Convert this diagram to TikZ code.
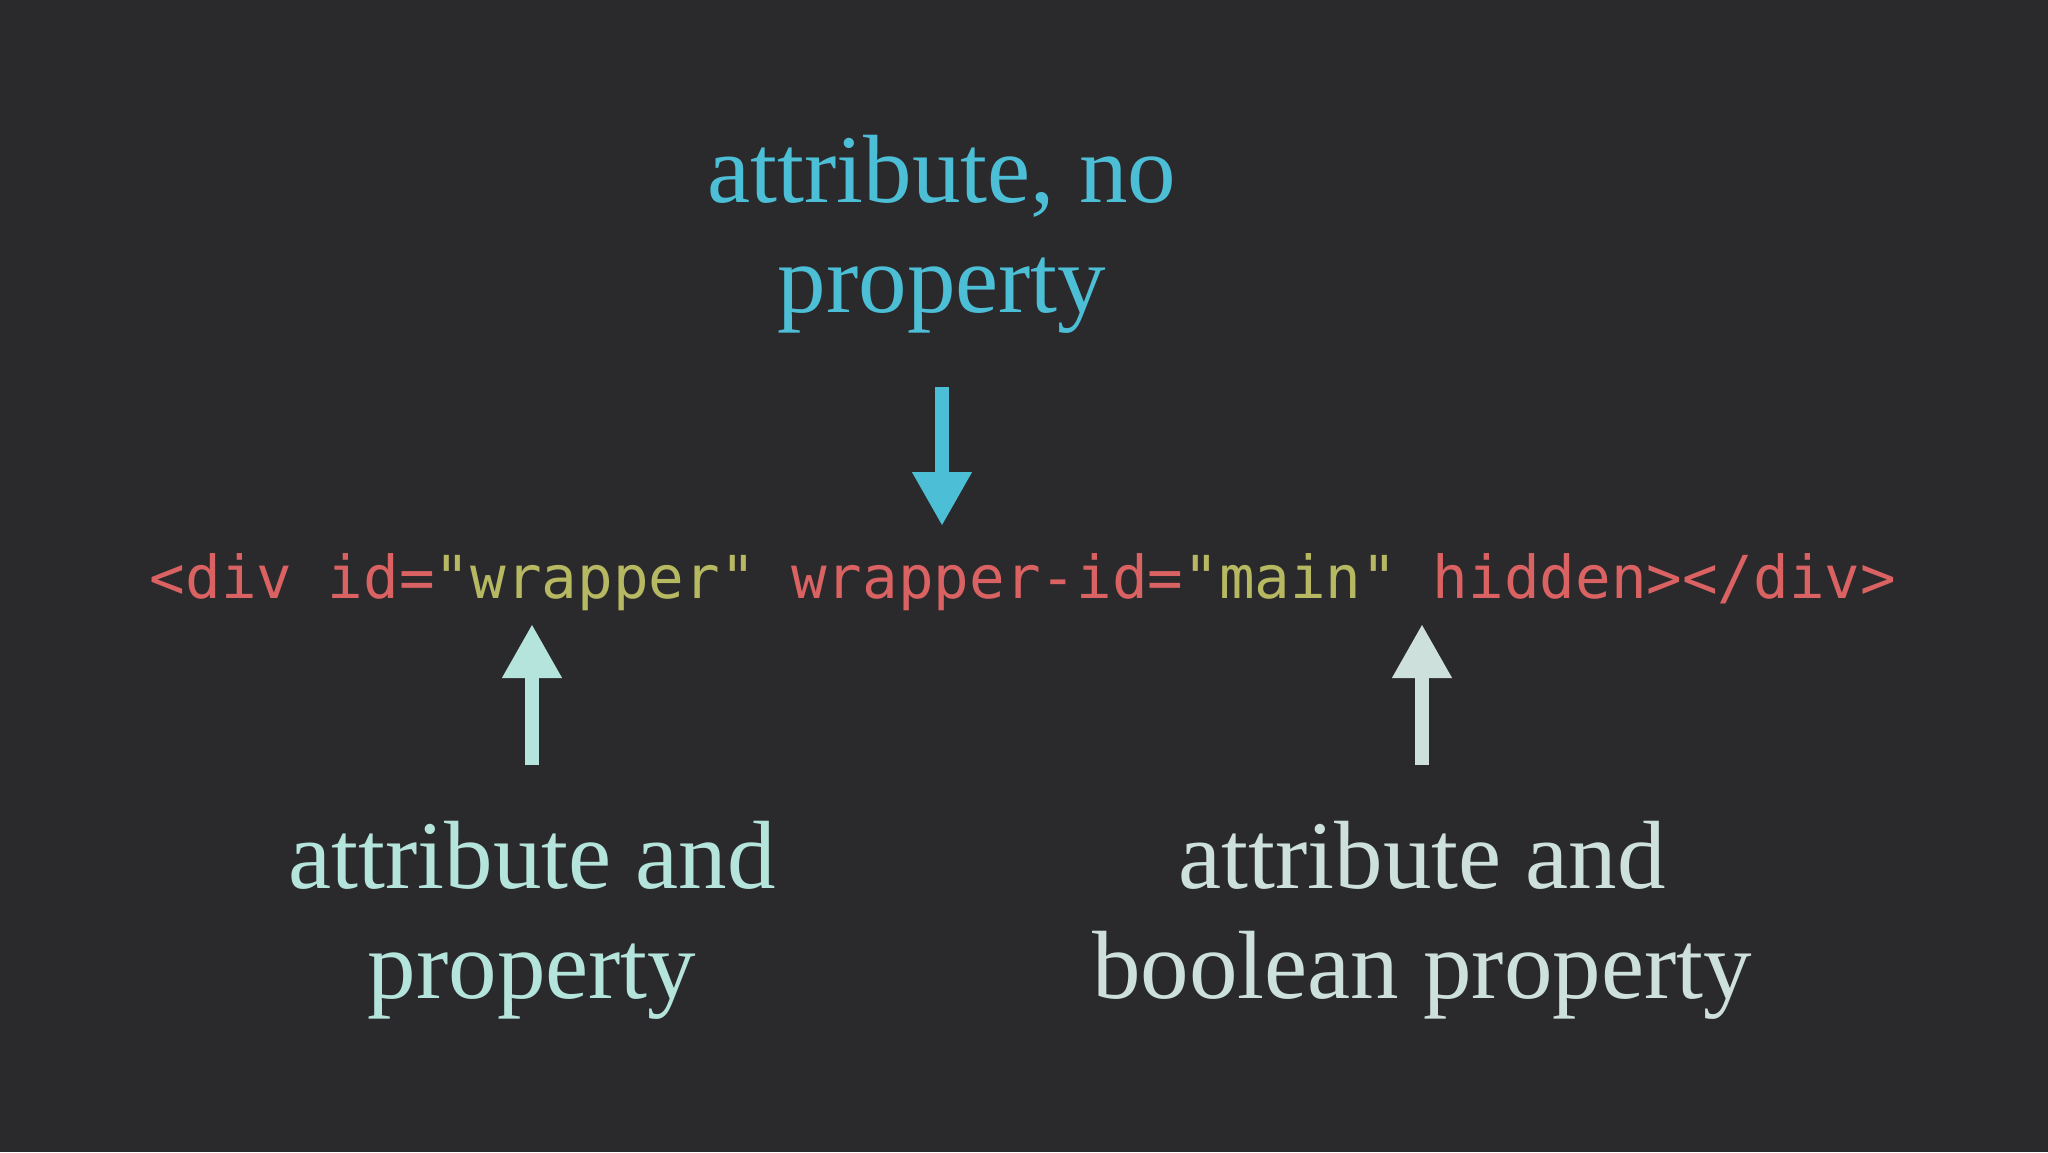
\documentclass[tikz,border=0pt]{standalone}
\usepackage{fontspec}
\setmainfont{Liberation Serif}
\newfontfamily\codefont{DejaVu Sans Mono}
\usetikzlibrary{arrows.meta}
\definecolor{bgc}{HTML}{2A2A2C}
\definecolor{cblue}{HTML}{4CBFD7}
\definecolor{cmint}{HTML}{B4E4DB}
\definecolor{cgray}{HTML}{CDE0DC}
\definecolor{cred}{HTML}{DA6262}
\definecolor{cyel}{HTML}{B6B862}
\tikzset{
  lbl/.style={anchor=base, inner sep=0pt, font=\fontsize{48.5}{55}\selectfont},
  codetxt/.style={anchor=base, inner sep=0pt, font=\codefont\fontsize{29.6}{36}\selectfont, text=cred},
  bigarrow/.style={line width=7pt, -{Triangle[width=28pt,length=27pt]}},
}
\begin{document}
\begin{tikzpicture}[x=0.5pt, y=-0.5pt]
\fill[bgc] (0,0) rectangle (2048,1152);
\useasboundingbox (0,0) rectangle (2048,1152);

% code line
\node[codetxt] (code) at (1023,598) {<div id=\textcolor{cyel}{"wrapper"} wrapper-id=\textcolor{cyel}{"main"} hidden></div>};

% top label
\node[lbl, text=cblue] (top1) at (942,202) {attribute, no};
\node[lbl, text=cblue] (top2) at (942,312) {property};

% left label
\node[lbl, text=cmint] (left1) at (532,888) {attribute and};
\node[lbl, text=cmint] (left2) at (532,998) {property};

% right label
\node[lbl, text=cgray] (right1) at (1422,888) {attribute and};
\node[lbl, text=cgray] (right2) at (1422,998) {boolean property};

% arrows
\coordinate (bS) at (942,387);
\coordinate (bT) at (942,526);
\draw[bigarrow, cblue] (bS) -- (bT);

\coordinate (lS) at (532,765);
\coordinate (lT) at (532,624);
\draw[bigarrow, cmint] (lS) -- (lT);

\coordinate (rS) at (1422,765);
\coordinate (rT) at (1422,624);
\draw[bigarrow, cgray] (rS) -- (rT);
\end{tikzpicture}
\end{document}
